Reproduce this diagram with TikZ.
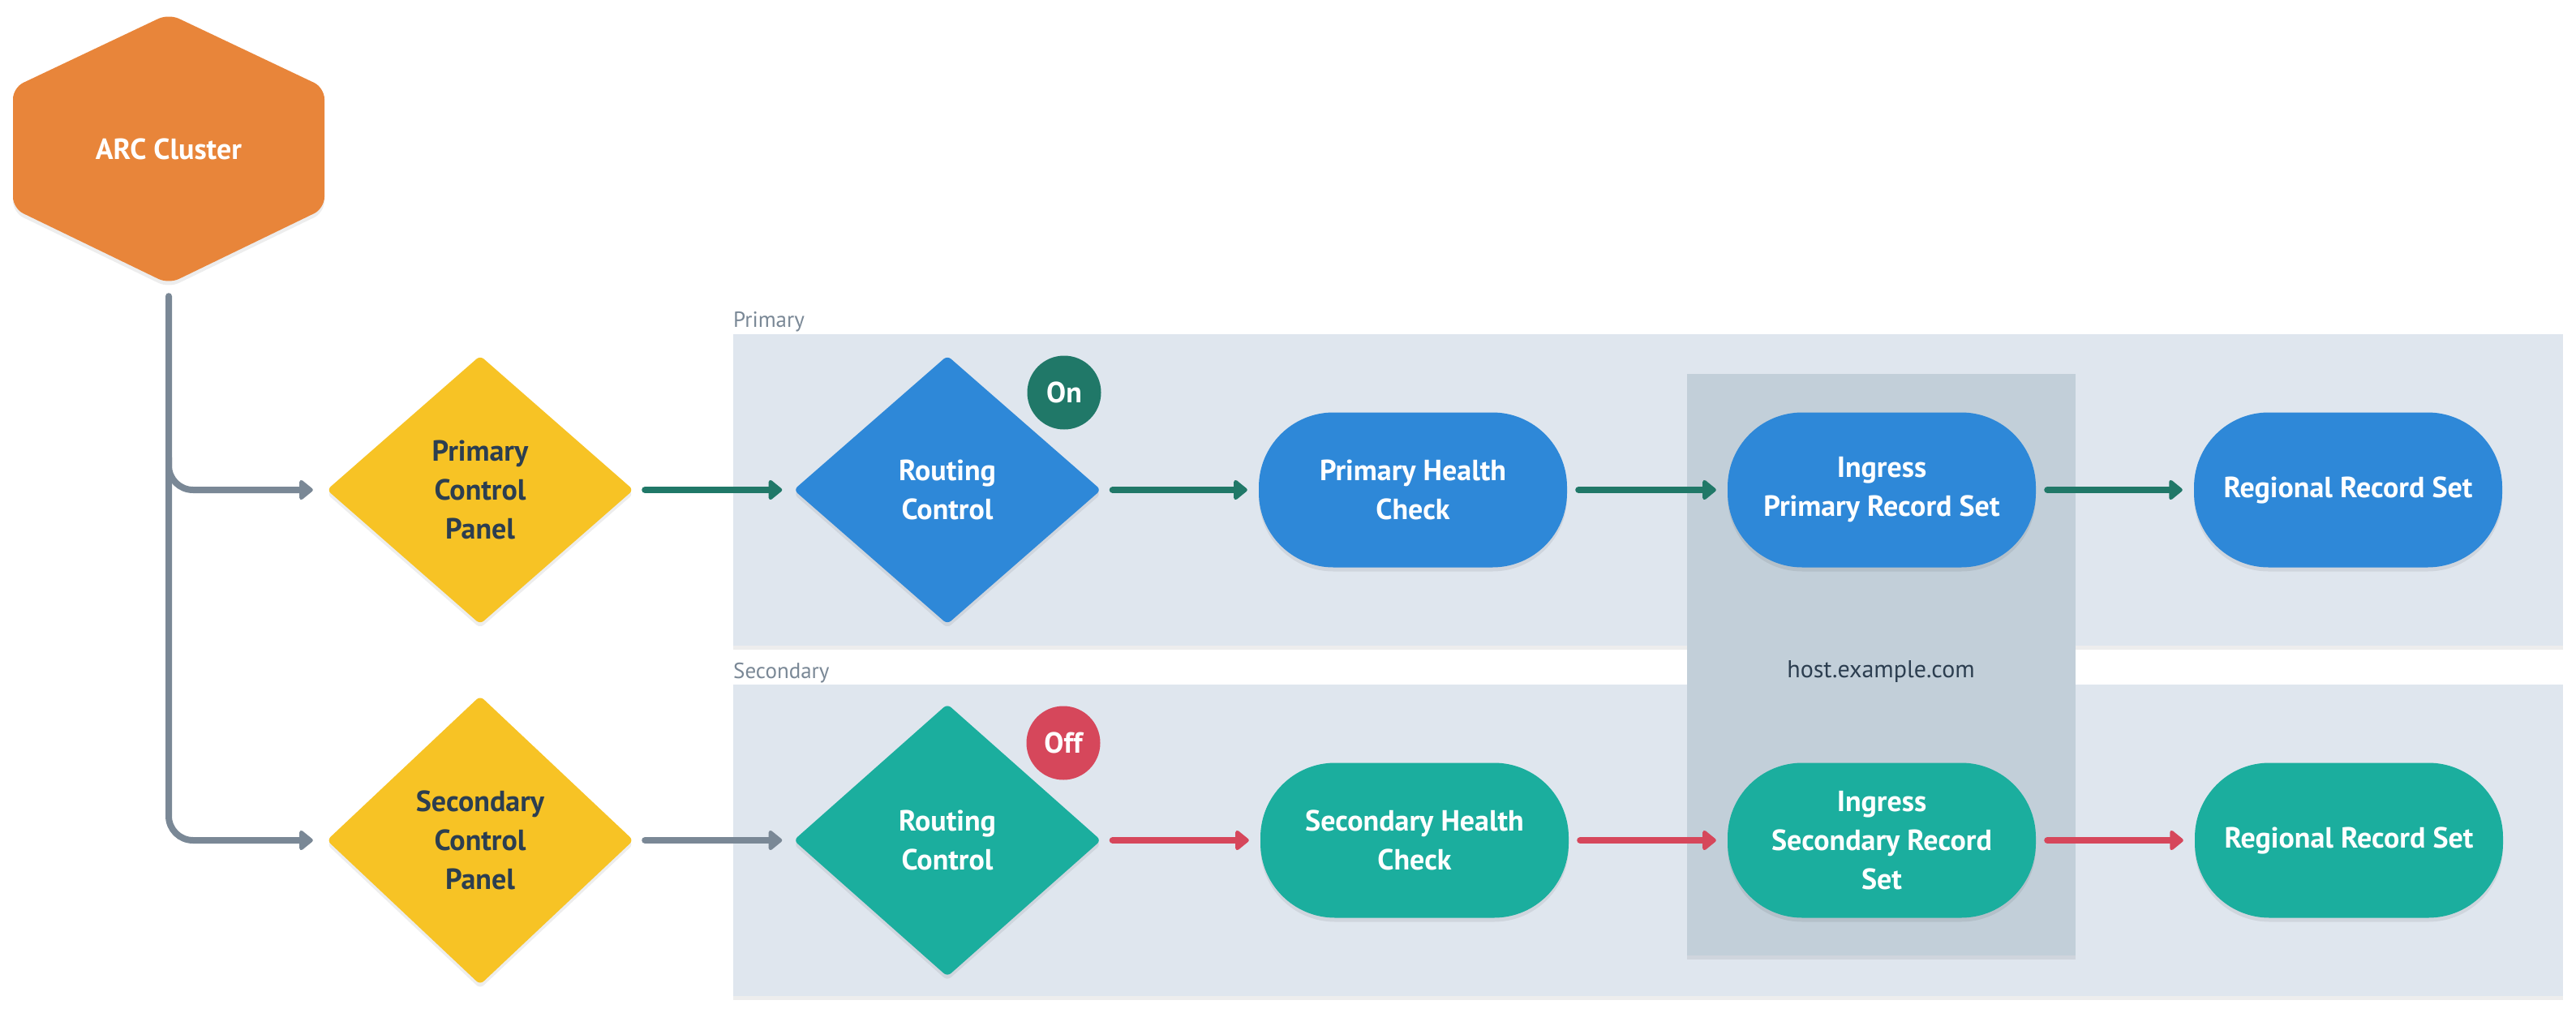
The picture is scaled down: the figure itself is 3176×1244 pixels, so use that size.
\documentclass[tikz,border=0pt]{standalone}
\usepackage{fontspec}
\setmainfont{PT Sans}
\usetikzlibrary{shapes.geometric,arrows.meta,shadows}

\definecolor{arcorange}{HTML}{E8853A}
\definecolor{panelyellow}{HTML}{F7C325}
\definecolor{routeblue}{HTML}{2E88D8}
\definecolor{routeteal}{HTML}{1BAE9E}
\definecolor{ongreen}{HTML}{207868}
\definecolor{offred}{HTML}{D6475B}
\definecolor{slate}{HTML}{7A8896}
\definecolor{inkdark}{HTML}{2C3E50}
\definecolor{lanefill}{HTML}{DFE6EE}
\definecolor{hostfill}{HTML}{C2CFD9}

\tikzset{
  nodefont/.style={font=\fontsize{36}{48}\selectfont\bfseries},
  soft/.style={drop shadow={shadow xshift=0pt, shadow yshift=-5pt, opacity=0.07, fill=black}},
  panel/.style={diamond, fill=panelyellow, text=inkdark, inner sep=0pt, rounded corners=6pt, align=center, nodefont, soft},
  ctrl/.style={diamond, text=white, inner sep=0pt, rounded corners=6pt, align=center, nodefont, soft, minimum width=379pt},
  rec/.style={rectangle, rounded corners=92pt, minimum width=380pt, minimum height=191pt, text=white, align=center, nodefont, soft},
  badge/.style={circle, minimum size=91pt, inner sep=0pt, text=white, nodefont},
  lanelabel/.style={inner sep=0pt, text=slate, font=\fontsize{27}{32}\selectfont},
  flow/.style={line width=8pt, line cap=round, -{Triangle[length=18pt,width=28pt,round]}, shorten <=14pt, shorten >=14pt}
}

\begin{document}
\begin{tikzpicture}[x=1pt,y=-1pt]
                \useasboundingbox (0,0) rectangle (3176,1244);
                \fill[white] (0,0) rectangle (3176,1244);

                \fill[lanefill, soft] (904,412) rectangle (3160,796);
                \fill[lanefill, soft] (904,844) rectangle (3160,1228);
                \node[lanelabel, anchor=base west] (plane) at (904,403) {Primary};
                \node[lanelabel, anchor=base west] (slane) at (904,836) {Secondary};

                \fill[hostfill, soft] (2080,461) rectangle (2559,1178);
                \node[inner sep=0pt, text=inkdark, font=\fontsize{30}{36}\selectfont, anchor=base] (host) at (2319,835) {host.example.com};

                \fill[arcorange, rounded corners=14pt, soft] (208,17) -- (400,108) -- (400,257) -- (208,350) -- (16,257) -- (16,108) -- cycle;
                \node[inner sep=0pt, minimum width=384pt, minimum height=333pt, text=white, nodefont] (arc) at (208,183.5) {ARC Cluster};

                \node[panel, minimum width=378pt, minimum height=331pt] (pcp) at (592,604) {Primary\\Control\\Panel};
                \node[panel, minimum width=378pt, minimum height=356pt] (scp) at (592,1036) {Secondary\\Control\\Panel};

                \node[ctrl, fill=routeblue, minimum height=331pt] (prc) at (1168,604) {Routing\\Control};
                \node[ctrl, fill=routeteal, minimum height=336pt] (src) at (1168,1036) {Routing\\Control};
                \node[badge, fill=ongreen] (on) at (1312,484) {On};
                \node[badge, fill=offred] (off) at (1311,916) {Off};

                \node[rec, fill=routeblue] (phc) at (1742,604) {Primary Health\\Check};
                \node[rec, fill=routeblue] (ipr) at (2320,604) {Ingress\\Primary Record Set};
                \node[rec, fill=routeblue] (rr1) at (2895,604) {Regional Record Set};

                \node[rec, fill=routeteal] (shc) at (1744,1036) {Secondary Health\\Check};
                \node[rec, fill=routeteal] (isr) at (2320,1036) {Ingress\\Secondary Record\\Set};
                \node[rec, fill=routeteal] (rr2) at (2896,1036) {Regional Record Set};

                \coordinate (fork) at ([yshift=40pt]arc.south |- pcp.west);
                \draw[flow, slate, rounded corners=30pt, shorten <=15pt, shorten >=17pt] (arc.south) |- (scp.west);
                \draw[flow, slate, rounded corners=30pt, shorten <=0pt, shorten >=17pt] (fork) |- (pcp.west);

                \draw[flow, ongreen] (pcp.east) -- (prc.west);
                \draw[flow, ongreen] (prc.east) -- (phc.west);
                \draw[flow, ongreen] (phc.east) -- (ipr.west);
                \draw[flow, ongreen] (ipr.east) -- (rr1.west);

                \draw[flow, slate] (scp.east) -- (src.west);
                \draw[flow, offred] (src.east) -- (shc.west);
                \draw[flow, offred] (shc.east) -- (isr.west);
                \draw[flow, offred] (isr.east) -- (rr2.west);

\end{tikzpicture}
\end{document}
